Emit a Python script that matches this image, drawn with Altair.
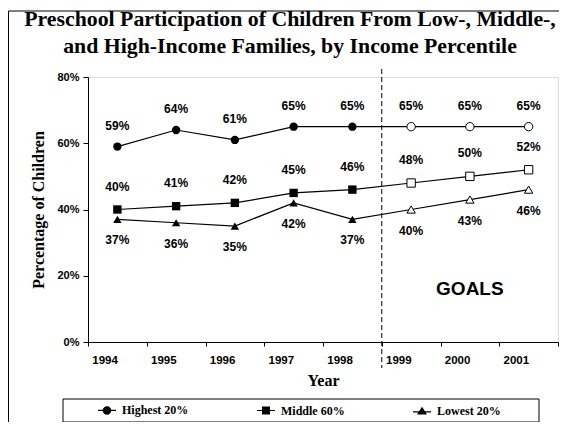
import altair as alt
import pandas as pd

# ---- data ----
years = ["1994", "1995", "1996", "1997", "1998", "1999", "2000", "2001"]
goal_years = ["1999", "2000", "2001"]
series_names = ["Highest 20%", "Middle 60%", "Lowest 20%"]
highest = [59, 64, 61, 65, 65, 65, 65, 65]
middle = [40, 41, 42, 45, 46, 48, 50, 52]
lowest = [37, 36, 35, 42, 37, 40, 43, 46]
y_ticks = [0, 20, 40, 60, 80]
title_lines = ["Preschool Participation of Children From Low-, Middle-,",
               "and High-Income Families, by Income Percentile"]
goal_label = ["GOALS"]
goal_label_year = ["2000"]
goal_label_value = [16]

rows = []
for name, vals in zip(series_names, [highest, middle, lowest]):
    for yr, v in zip(years, vals):
        rows.append({"year": yr, "value": v, "series": name,
                     "goal": yr in goal_years, "label": f"{v}%"})
df = pd.DataFrame(rows)
df_div = pd.DataFrame({"year": [goal_years[0]]})
df_goal = pd.DataFrame({"year": goal_label_year, "value": goal_label_value, "text": goal_label})
df_one = pd.DataFrame({"k": [0]})
df_title = pd.DataFrame({"t": ["\n".join(title_lines)]})

SANS = "Liberation Sans"
SERIF = "Liberation Serif"

xscale = alt.Scale(type="band", domain=years, paddingInner=0, paddingOuter=0)
yscale = alt.Scale(domain=[0, 80], nice=False)

x_enc = alt.X("year:O", scale=xscale, bandPosition=0.5,
              axis=alt.Axis(title="Year", tickBand="extent", labelAngle=0,
                            domainColor="black", tickColor="black", tickSize=4,
                            labelFont=SANS, labelFontWeight="bold", labelFontSize=11.5,
                            labelColor="black", labelPadding=14,
                            titleFont=SERIF, titleFontSize=16, titleFontWeight="bold",
                            titleColor="black", titlePadding=7, grid=False))
y_enc = alt.Y("value:Q", scale=yscale,
              axis=alt.Axis(title="Percentage of Children", values=y_ticks,
                            labelExpr="datum.value + '%'",
                            domainColor="black", tickColor="black", tickSize=5,
                            labelFont=SANS, labelFontWeight="bold", labelFontSize=11,
                            labelColor="black", labelPadding=4,
                            titleFont=SERIF, titleFontSize=16, titleFontWeight="bold",
                            titleColor="black", titlePadding=10, grid=False))

shape_scale = alt.Scale(domain=series_names, range=["circle", "square", "triangle-up"])

base = alt.Chart(df)

# outer frame + legend box (decoration)
frame = alt.Chart(df_one).mark_rect(fill="transparent", stroke="black", strokeWidth=1).encode(
    x=alt.value(-79.5), x2=alt.value(700), y=alt.value(-66), y2=alt.value(600))
legend_box = alt.Chart(df_one).mark_rect(fill="white", stroke="black", strokeWidth=1).encode(
    x=alt.value(-25), x2=alt.value(451), y=alt.value(322), y2=alt.value(345))

title = alt.Chart(df_title).mark_text(
    font=SERIF, fontSize=21.8, fontWeight="bold", color="black", lineBreak="\n",
    lineHeight=27, align="center", baseline="top").encode(
    x=alt.value(202), y=alt.value(-68), text="t:N")

lines = base.mark_line(color="black", strokeWidth=1.2).encode(
    x=x_enc, y=y_enc, detail="series:N")

filled_pts = base.transform_filter("!datum.goal").mark_point(
    filled=True, color="black", size=70, opacity=1).encode(
    x=x_enc, y=y_enc, shape=alt.Shape("series:N", scale=shape_scale, legend=None))

open_pts = base.transform_filter("datum.goal").mark_point(
    filled=True, fill="white", stroke="black", strokeWidth=1, size=70, opacity=1).encode(
    x=x_enc, y=y_enc, shape=alt.Shape("series:N", scale=shape_scale, legend=None))

offsets = {"Highest 20%": -21, "Middle 60%": -23, "Lowest 20%": 21}
texts = []
for name in series_names:
    texts.append(base.transform_filter(alt.datum.series == name).mark_text(
        dy=offsets[name], font=SANS, fontWeight="bold", fontSize=12, color="black").encode(
        x=x_enc, y=y_enc, text="label:N"))

divider = alt.Chart(df_div).mark_rule(color="black", strokeWidth=1, strokeDash=[5, 3]).encode(
    x=alt.X("year:O", scale=xscale, bandPosition=0), y=alt.value(-8), y2=alt.value(291))

goals = alt.Chart(df_goal).mark_text(font=SANS, fontWeight="bold", fontSize=19, color="black").encode(
    x=x_enc, y=y_enc, text="text:N")

# legend symbols: a thin filled bar (the line) plus the marker, all filled
bar = "M-1.8,-0.12H1.8V0.12H-1.8Z"
legend_paths = [
    bar + "M0.85,0A0.85,0.85,0,1,1,-0.85,0A0.85,0.85,0,1,1,0.85,0Z",
    bar + "M-0.8,-0.8H0.8V0.8H-0.8Z",
    "M-1.8,0.13H1.8V0.37H-1.8Z" + "M0,-0.8L1,0.75H-1Z",
]
legend_layer = base.mark_point(filled=True, color="black", size=100, opacity=1, clip=True).encode(
    x=x_enc, y=alt.value(-400),
    shape=alt.Shape("series:N", scale=alt.Scale(domain=series_names, range=legend_paths),
                    legend=alt.Legend(title=None, orient="none", legendX=13, legendY=327,
                                      direction="horizontal", columns=3, columnPadding=65,
                                      labelFont=SERIF, labelFontWeight="bold", labelFontSize=12,
                                      labelColor="black", labelOffset=9, symbolSize=100,
                                      symbolFillColor="black", padding=0)))

chart = alt.layer(frame, legend_box, title, divider, lines, filled_pts, open_pts, *texts, goals,
                  legend_layer).resolve_scale(
    shape="independent"
).properties(
    width=470, height=265,
    padding={"left": 80, "top": 69, "right": 1, "bottom": 80},
    autosize=alt.AutoSizeParams(type="none"),
).configure_view(strokeWidth=0).configure(background="white")

chart.save("out.html", embed_options={"renderer": "svg", "actions": False})
